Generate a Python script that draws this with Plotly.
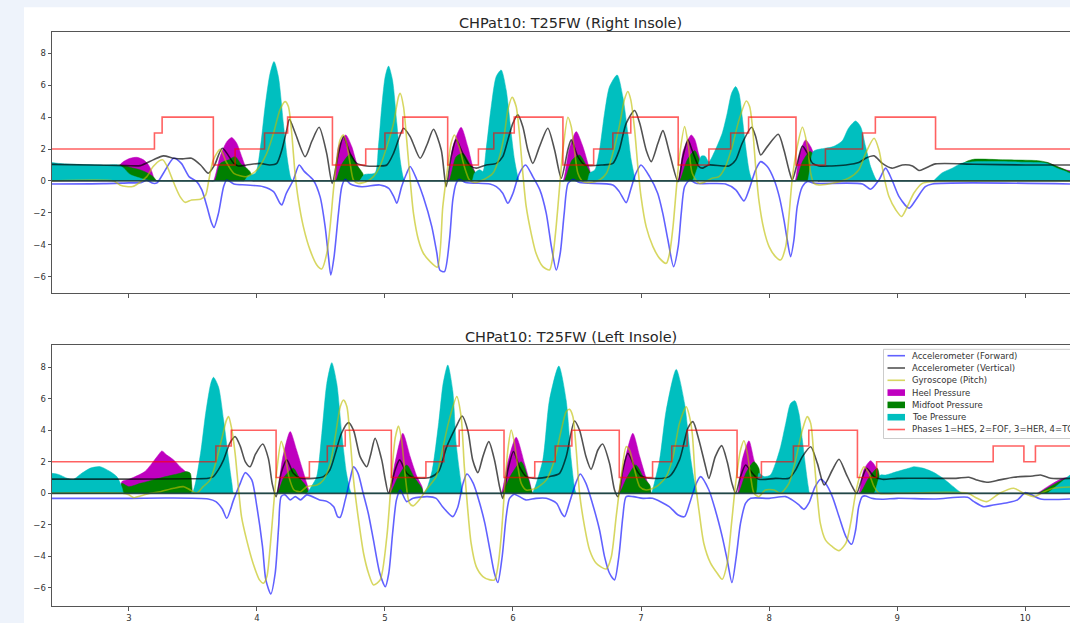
import plotly.graph_objects as go

# ---------------- DATA ----------------
X_TICKS = [3, 4, 5, 6, 7, 8, 9, 10]
Y_TICKS = [-6, -4, -2, 0, 2, 4, 6, 8]
TITLES = ["CHPat10: T25FW (Right Insole)", "CHPat10: T25FW (Left Insole)"]
LEG_NAMES = ["Accelerometer (Forward)", "Accelerometer (Vertical)", "Gyroscope (Pitch)",
             "Heel Pressure", "Midfoot Pressure", "Toe Pressure",
             "Phases 1=HES, 2=FOF, 3=HER, 4=TOF"]

# ---- Right insole (top panel) ----
R_PH_X = [2.40, 3.20, 3.26, 3.66, 3.83, 4.06, 4.24, 4.59, 4.85, 5.00, 5.14, 5.49, 5.73, 5.85, 6.01,
          6.39, 6.63, 6.78, 6.92, 7.29, 7.53, 7.70, 7.84, 8.21, 8.44, 8.73, 8.83, 9.30, 10.35]
R_PH_Y = [2, 3, 4, 1, 2, 3, 4, 1, 2, 3, 4, 1, 2, 3, 4, 1, 2, 3, 4, 1, 2, 3, 4, 1, 2, 3, 4, 2, 2]

R_ACCF_X = [2.40, 2.80, 3.00, 3.10, 3.14, 3.19, 3.22, 3.27, 3.35, 3.41, 3.47, 3.53, 3.57, 3.61, 3.645,
            3.665, 3.70, 3.74, 3.765, 3.82, 3.92, 4.05, 4.13, 4.18, 4.195, 4.23, 4.285, 4.33, 4.37,
            4.44, 4.494, 4.533, 4.559, 4.577, 4.603, 4.637, 4.663, 4.69, 4.73, 4.82, 4.96, 5.03, 5.07,
            5.093, 5.13, 5.17, 5.197, 5.25, 5.30, 5.366, 5.405, 5.43, 5.465, 5.504, 5.53, 5.556, 5.58,
            5.63, 5.82, 5.87, 5.92, 5.96, 6.00, 6.05, 6.098, 6.155, 6.21, 6.26, 6.30, 6.338, 6.369,
            6.40, 6.43, 6.47, 6.52, 6.78, 6.83, 6.884, 6.92, 6.96, 7.00, 7.067, 7.13, 7.17, 7.21,
            7.254, 7.29, 7.314, 7.34, 7.38, 7.43, 7.66, 7.74, 7.804, 7.843, 7.895, 7.934, 7.986, 8.04,
            8.08, 8.116, 8.142, 8.168, 8.194, 8.22, 8.26, 8.30, 8.36, 8.73, 8.793, 8.858, 8.91, 8.96,
            9.015, 9.093, 9.145, 9.22, 9.275, 10.35]
R_ACCF_Y = [-0.19, -0.17, -0.12, -0.10, 0.04, -0.15, -0.12, 0.48, 1.42, 1.10, 0.27, -0.04, -0.56, -1.60, -2.60,
            -2.92, -2.03, -0.36, 0.06, -0.19, -0.25, -0.36, -0.67, -1.40, -1.50, -0.77, 0.06, 1.00, 0.60,
            0.06, -1.00, -2.86, -4.74, -5.89, -4.74, -2.03, -0.36, 0.10, -0.19, -0.36, -0.25, -0.46, -1.00,
            -1.40, -0.36, 0.48, 0.90, 0.06, -1.00, -2.86, -4.50, -5.60, -5.68, -3.70, -1.19, -0.15, 0.10,
            -0.10, -0.19, -0.36, -0.77, -1.40, -0.77, 0.48, 1.00, 0.27, -0.56, -2.03, -4.12, -5.58, -4.53,
            -2.03, -0.15, 0.10, -0.10, -0.25, -0.67, -1.36, -0.52, 0.48, 1.00, 0.27, -0.77, -2.03, -3.70,
            -5.37, -4.12, -2.03, -0.36, 0.06, -0.15, -0.19, -0.56, -1.25, -0.56, 0.69, 1.21, 0.90, 0.06,
            -1.00, -2.44, -3.70, -4.74, -3.70, -1.60, -0.36, -0.04, -0.15, -0.19, -0.52, 0.06, 0.80, 0.06,
            -0.98, -1.71, -1.19, -0.36, -0.19, -0.19]

R_ACCV_X = [2.40, 2.70, 2.98, 3.09, 3.19, 3.27, 3.35, 3.42, 3.49, 3.56, 3.62, 3.67, 3.73, 3.82, 3.855,
            3.92, 4.025, 4.10, 4.155, 4.195, 4.233, 4.254, 4.30, 4.377, 4.43, 4.486, 4.545, 4.588, 4.637,
            4.676, 4.728, 4.78, 4.858, 4.96, 5.015, 5.067, 5.119, 5.145, 5.197, 5.275, 5.33, 5.379, 5.44,
            5.478, 5.517, 5.556, 5.608, 5.66, 5.713, 5.79, 5.87, 5.92, 5.96, 5.999, 6.038, 6.077, 6.116,
            6.155, 6.207, 6.272, 6.325, 6.377, 6.43, 6.455, 6.507, 6.56, 6.70, 6.78, 6.83, 6.884, 6.95,
            6.99, 7.04, 7.08, 7.132, 7.171, 7.223, 7.288, 7.327, 7.366, 7.40, 7.452, 7.478, 7.53, 7.686,
            7.74, 7.79, 7.864, 7.895, 7.934, 7.986, 8.072, 8.116, 8.155, 8.181, 8.22, 8.26, 8.30, 8.34,
            8.39, 8.49, 8.60, 8.70, 8.754, 8.82, 8.884, 8.96, 9.04, 9.12, 9.17, 9.22, 9.30, 9.60, 10.00,
            10.35]
R_ACCV_Y = [1.04, 1.00, 0.96, 0.96, 1.32, 1.57, 1.42, 1.38, 1.42, 1.00, 0.48, 1.00, 2.05, 1.10, 0.94,
            1.00, 1.10, 1.00, 1.10, 1.94, 3.20, 3.86, 2.99, 1.52, 2.50, 3.36, 1.73, -0.15, 1.73,
            2.78, 1.73, 1.10, 0.94, 0.94, 1.00, 1.73, 2.88, 3.30, 2.78, 1.42, 2.30, 3.24, 1.94,
            -0.36, 1.52, 2.57, 1.73, 1.00, 0.80, 1.00, 1.10, 1.52, 2.57, 3.61, 4.14, 3.40, 1.94,
            1.10, 2.15, 3.30, 1.94, 0.17, 2.00, 2.57, 1.52, 1.00, 1.00, 1.10, 1.94, 3.61, 4.41,
            3.61, 1.94, 1.21, 2.36, 3.15, 1.73, -0.04, 1.52, 2.57, 1.90, 0.90, 0.80, 1.00, 0.94,
            1.32, 2.36, 3.36, 2.78, 1.63, 2.15, 2.92, 1.94, 0.69, 0.06, 1.10, 2.19, 1.73, 1.10,
            0.94, 0.94, 1.00, 1.15, 1.42, 1.57, 1.10, 0.80, 1.00, 0.94, 0.65, 0.80, 1.07, 1.05, 1.00,
            1.00]

R_GYRO_X = [2.40, 2.88, 2.93, 2.98, 3.03, 3.085, 3.14, 3.19, 3.24, 3.266, 3.30, 3.35, 3.40, 3.44, 3.49,
            3.56, 3.60, 3.625, 3.66, 3.714, 3.76, 3.82, 3.92, 4.00, 4.077, 4.13, 4.18, 4.22, 4.246, 4.272,
            4.298, 4.324, 4.363, 4.415, 4.468, 4.507, 4.546, 4.572, 4.598, 4.624, 4.65, 4.676, 4.70,
            4.728, 4.754, 4.79, 4.858, 4.91, 4.96, 5.015, 5.067, 5.106, 5.119, 5.145, 5.17, 5.197, 5.223,
            5.262, 5.30, 5.353, 5.41, 5.452, 5.491, 5.517, 5.543, 5.58, 5.62, 5.66, 5.70, 5.765, 5.843,
            5.895, 5.934, 5.96, 5.994, 6.025, 6.05, 6.077, 6.103, 6.142, 6.18, 6.233, 6.285, 6.31, 6.338,
            6.364, 6.39, 6.429, 6.455, 6.48, 6.507, 6.546, 6.60, 6.676, 6.73, 6.78, 6.83, 6.87, 6.897,
            6.92, 6.95, 6.975, 7.00, 7.04, 7.093, 7.145, 7.197, 7.223, 7.25, 7.275, 7.30, 7.34, 7.37,
            7.40, 7.452, 7.504, 7.556, 7.608, 7.66, 7.712, 7.765, 7.822, 7.848, 7.87, 7.895, 7.92, 7.96,
            8.00, 8.05, 8.09, 8.13, 8.155, 8.18, 8.22, 8.26, 8.30, 8.325, 8.35, 8.39, 8.494, 8.62, 8.70,
            8.754, 8.82, 8.858, 8.897, 8.936, 8.99, 9.035, 9.08, 9.13, 9.197, 9.275, 9.50, 10.35]
R_GYRO_Y = [0.00, 0.00, -0.25, -0.35, -0.35, -0.10, 0.27, 0.90, 1.27, 1.32, 0.90, -0.10, -0.98, -1.34, -1.19,
            -1.15, -0.88, 0.06, 1.32, 1.98, 1.20, 0.48, 0.27, 0.69, 1.73, 2.99, 4.45, 4.97, 4.66, 2.99,
            0.48, -1.19, -2.86, -4.32, -5.26, -5.51, -4.53, -2.86, -0.56, 1.32, 2.57, 2.88, 2.36,
            1.10, 0.06, -0.15, -0.04, 0.27, 0.90, 2.15, 3.61, 5.28, 5.49, 4.66, 2.57, 0.06, -2.03,
            -3.70, -4.53, -5.05, -5.40, -1.60, 0.90, 2.36, 2.88, 2.15, 0.90, 0.06, -0.10, 0.06, 0.48,
            1.52, 2.99, 4.45, 5.24, 4.66, 2.99, 0.48, -1.60, -3.28, -4.53, -5.37, -5.58, -4.80, -2.80,
            -0.36, 1.94, 3.99, 3.40, 1.94, 0.48, -0.04, -0.10, 0.06, 0.48, 1.73, 3.40, 5.08, 5.60,
            5.08, 3.20, 0.90, -0.98, -2.86, -4.11, -4.85, -5.16, -4.53, -2.86, -0.56, 1.52, 3.40, 2.20,
            0.48, -0.15, -0.04, 0.17, 0.27, 0.90, 2.15, 3.82, 5.01, 4.66, 3.40, 0.90, -1.19, -3.07,
            -4.11, -4.74, -4.95, -4.11, -2.23, 0.06, 2.15, 3.36, 2.15, 0.48, -0.15, -0.25, -0.15, 0.17, 0.69,
            1.73, 2.67, 1.94, 0.27, -0.98, -1.82, -2.23, -1.60, -0.77, -0.15, -0.04, 0.00, 0.00]

R_HEEL_X = [2.40, 2.88, 2.90, 2.92, 2.958, 3.01, 3.063, 3.115, 3.154, 3.18, 3.206, 3.226, 3.64, 3.66,
            3.712, 3.765, 3.804, 3.843, 3.882, 3.92, 3.942, 3.96, 3.98, 4.583, 4.603, 4.637, 4.694, 4.741,
            4.78, 4.82, 4.845, 4.865, 5.47, 5.49, 5.53, 5.595, 5.647, 5.686, 5.713, 5.733, 5.753, 6.37,
            6.39, 6.44, 6.494, 6.546, 6.585, 6.61, 6.624, 6.644, 7.268, 7.288, 7.33, 7.392, 7.42, 7.45,
            7.48, 7.51, 7.53, 8.182, 8.202, 8.233, 8.285, 8.325, 8.35, 8.37, 8.38, 8.40, 9.28, 9.30, 9.40,
            9.55, 9.80, 10.17, 10.24, 10.32, 10.35]
R_HEEL_Y = [0, 0, 0, 0.90, 1.21, 1.42, 1.48, 1.32, 1.00, 0.58, 0, 0, 0, 0,
            1.52, 2.46, 2.72, 2.36, 1.52, 0.69, 0.27, 0, 0, 0, 0, 2.15, 2.88, 2.15,
            1.10, 0.38, 0, 0, 0, 0, 2.15, 3.36, 2.15, 0.90, 0.38, 0, 0, 0,
            0, 2.00, 3.09, 2.15, 1.10, 0.38, 0, 0, 0, 0, 1.90, 2.88, 2.60, 1.70,
            0.80, 0, 0, 0, 0, 1.52, 2.57, 2.15, 1.63, 0.50, 0, 0, 0, 0, 0.60,
            1.10, 1.15, 1.15, 0.94, 0.69, 0.65]

R_MID_X = [2.40, 2.90, 2.93, 2.99, 3.04, 3.09, 3.14, 3.19, 3.22, 3.24, 3.65, 3.67, 3.715, 3.78, 3.83,
           3.882, 3.92, 3.947, 3.96, 3.97, 3.99, 4.595, 4.615, 4.66, 4.728, 4.78, 4.827, 4.845, 4.865,
           5.48, 5.50, 5.556, 5.608, 5.66, 5.70, 5.726, 5.746, 6.38, 6.40, 6.46, 6.52, 6.57, 6.61, 6.624,
           6.644, 7.28, 7.30, 7.36, 7.42, 7.46, 7.50, 7.52, 7.54, 8.19, 8.21, 8.26, 8.32, 8.36, 8.38,
           8.40, 9.28, 9.30, 9.45, 9.55, 9.60, 9.85, 10.10, 10.17, 10.25, 10.35]
R_MID_Y = [0.90, 0.95, 1.00, 0.90, 0.79, 0.69, 0.52, 0.27, 0, 0, 0, 0, 1.10, 1.32, 1.52,
           1.00, 0.80, 0.58, 0.30, 0, 0, 0, 0, 1.00, 1.67, 1.00, 0.48, 0, 0,
           0, 0, 1.52, 1.73, 1.10, 0.58, 0, 0, 0, 0, 1.30, 1.63, 1.00, 0.40, 0,
           0, 0, 0, 1.30, 1.90, 1.20, 0.40, 0, 0, 0, 0, 1.20, 1.85, 1.50, 0,
           0, 0, 0, 0.80, 1.25, 1.36, 1.32, 1.27, 1.17, 0.90, 0.58]

R_TOE_X = [2.40, 2.45, 2.60, 2.80, 2.92, 2.96, 3.01, 3.09, 3.14, 3.20, 3.22, 3.88, 3.90, 3.93, 3.99,
           4.025, 4.064, 4.103, 4.134, 4.168, 4.207, 4.239, 4.265, 4.28, 4.30, 4.78, 4.80, 4.84, 4.923,
           4.949, 4.975, 5.002, 5.028, 5.059, 5.093, 5.119, 5.145, 5.16, 5.18, 5.66, 5.68, 5.70, 5.74,
           5.765, 5.79, 5.83, 5.869, 5.908, 5.947, 5.986, 6.012, 6.038, 6.05, 6.07, 6.56, 6.58, 6.60,
           6.64, 6.676, 6.715, 6.754, 6.814, 6.858, 6.897, 6.923, 6.95, 6.96, 6.98, 7.38, 7.40, 7.44,
           7.47, 7.50, 7.53, 7.58, 7.634, 7.673, 7.707, 7.739, 7.765, 7.79, 7.817, 7.843, 7.86, 7.87,
           7.89, 8.28, 8.30, 8.345, 8.40, 8.44, 8.50, 8.57, 8.62, 8.676, 8.715, 8.754, 8.793, 8.83,
           8.845, 8.865, 9.26, 9.28, 9.35, 9.43, 9.50, 9.60, 9.80, 10.00, 10.17, 10.25, 10.33, 10.35]
R_TOE_Y = [1.15, 1.10, 1.04, 1.00, 1.00, 0.80, 0.40, 0.17, 0.06, 0, 0, 0, 0, 0.30, 0.50,
           1.94, 4.66, 6.75, 7.48, 6.54, 3.61, 1.32, 0.17, 0, 0, 0, 0, 0.40, 0.50,
           2.15, 4.66, 6.54, 7.20, 6.33, 3.61, 1.32, 0.17, 0, 0, 0, 0, 0.50, 0.70,
           0.60, 1.94, 4.66, 6.54, 6.95, 5.70, 2.99, 1.32, 0.27, 0, 0, 0, 0, 0.50,
           0.70, 1.94, 4.24, 5.91, 6.64, 5.28, 2.99, 1.32, 0.27, 0, 0, 0, 0, 0.80,
           1.55, 1.55, 1.20, 1.94, 2.99, 4.24, 5.49, 5.91, 5.49, 4.03, 2.15, 0.69, 0.17, 0,
           0, 0, 0, 1.85, 2.00, 2.05, 2.15, 2.50, 3.30, 3.76, 3.40, 2.15, 0.90, 0.17,
           0, 0, 0, 0, 0.50, 0.80, 1.10, 1.20, 1.21, 1.17, 1.10, 0.79, 0.55, 0.48]

# ---- Left insole (bottom panel) ----
L_PH_X = [2.40, 3.68, 3.80, 4.15, 4.41, 4.55, 4.69, 5.05, 5.32, 5.46, 5.58, 5.93, 6.17, 6.33, 6.46,
          6.83, 7.09, 7.24, 7.36, 7.75, 7.94, 8.19, 8.31, 8.69, 8.84, 9.75, 9.99, 10.08, 10.35]
L_PH_Y = [2, 3, 4, 1, 2, 3, 4, 1, 2, 3, 4, 1, 2, 3, 4, 1, 2, 3, 4, 1, 2, 3, 4, 1, 2, 3, 2, 3, 3]

L_ACCF_X = [2.40, 3.00, 3.30, 3.62, 3.68, 3.73, 3.765, 3.818, 3.87, 3.909, 3.96, 4.00, 4.044, 4.07, 4.109,
            4.143, 4.17, 4.19, 4.22, 4.26, 4.30, 4.34, 4.39, 4.49, 4.55, 4.60, 4.63, 4.651, 4.69, 4.727,
            4.755, 4.79, 4.83, 4.87, 4.91, 4.96, 5.003, 5.03, 5.06, 5.09, 5.12, 5.17, 5.22, 5.33, 5.40,
            5.45, 5.53, 5.57, 5.61, 5.64, 5.69, 5.74, 5.78, 5.82, 5.855, 5.882, 5.916, 5.947, 5.973,
            6.01, 6.05, 6.10, 6.18, 6.26, 6.34, 6.38, 6.403, 6.44, 6.49, 6.525, 6.57, 6.62, 6.676,
            6.715, 6.754, 6.793, 6.827, 6.858, 6.884, 6.94, 7.015, 7.09, 7.22, 7.29, 7.34, 7.38, 7.43,
            7.465, 7.53, 7.58, 7.634, 7.673, 7.71, 7.744, 7.777, 7.817, 7.856, 8.00, 8.13, 8.18, 8.233,
            8.272, 8.31, 8.36, 8.403, 8.44, 8.494, 8.546, 8.60, 8.645, 8.676, 8.70, 8.728, 8.754, 8.80,
            8.884, 9.00, 9.30, 9.55, 9.60, 9.677, 9.75, 9.86, 9.94, 10.00, 10.05, 10.12, 10.35]
L_ACCF_Y = [-0.32, -0.32, -0.30, -0.36, -0.53, -1.00, -1.59, -0.42, 0.63, 1.31, 0.85, -0.85, -3.39, -5.50, -6.39,
            -5.08, -2.12, -0.20, -0.10, -0.42, -0.21, -0.42, -0.10, -0.42, -0.53, -0.85, -1.48, -1.52, -0.42, 0.85,
            1.69, 1.27, 0.00, -1.27, -2.96, -5.08, -5.93, -5.08, -2.54, -0.42, 0.20, -0.53, -0.32, -0.21, -0.32,
            -0.85, -1.48, -0.85, 0.63, 1.23, 0.63, -0.63, -1.90, -3.60, -5.08, -5.67, -4.00, -1.48, -0.32,
            -0.06, -0.21, -0.42, -0.32, -0.32, -0.63, -1.27, -1.48, -0.63, 0.63, 1.23, 0.63, -0.63, -2.33,
            -4.02, -5.08, -5.50, -4.00, -1.48, -0.21, -0.21, -0.32, -0.32, -0.85, -1.38, -1.48, -0.63, 0.60,
            1.06, 0.21, -1.06, -2.75, -4.23, -5.67, -4.00, -1.90, -0.63, -0.32, -0.32, -0.21, -0.42, -0.74,
            -1.02, -0.63, 0.42, 0.89, 0.63, -0.21, -1.48, -2.75, -3.24, -2.33, -0.85, -0.21, -0.17, -0.32,
            -0.38, -0.32, -0.36, -0.25, -0.53, -0.85, -0.74, -0.60, -0.42, 0.04, -0.10, -0.36, -0.36]

L_ACCV_X = [2.40, 3.00, 3.50, 3.62, 3.66, 3.70, 3.74, 3.79, 3.83, 3.87, 3.91, 3.947, 3.99, 4.046, 4.09,
            4.12, 4.15, 4.19, 4.233, 4.285, 4.34, 4.44, 4.52, 4.57, 4.62, 4.66, 4.715, 4.755, 4.806,
            4.858, 4.89, 4.923, 4.975, 5.00, 5.028, 5.08, 5.115, 5.17, 5.22, 5.35, 5.42, 5.48, 5.556,
            5.603, 5.647, 5.686, 5.726, 5.765, 5.811, 5.856, 5.895, 5.92, 5.96, 6.004, 6.05, 6.103,
            6.18, 6.285, 6.364, 6.416, 6.48, 6.52, 6.57, 6.61, 6.663, 6.70, 6.754, 6.793, 6.82, 6.858,
            6.897, 6.95, 7.00, 7.09, 7.22, 7.30, 7.366, 7.405, 7.452, 7.504, 7.53, 7.58, 7.63, 7.673,
            7.71, 7.739, 7.777, 7.817, 7.87, 7.92, 8.05, 8.155, 8.207, 8.26, 8.325, 8.377, 8.43, 8.494,
            8.546, 8.60, 8.65, 8.684, 8.728, 8.762, 8.82, 8.884, 9.00, 9.30, 9.46, 9.56, 9.62, 9.70,
            9.80, 9.91, 10.06, 10.12, 10.20, 10.35]
L_ACCV_Y = [0.90, 0.90, 0.92, 0.95, 1.06, 1.50, 2.12, 3.20, 3.60, 3.00, 2.00, 1.69, 2.50, 3.13, 2.20,
            0.60, -0.21, 1.30, 2.12, 1.27, 0.95, 0.95, 1.06, 1.48, 2.75, 3.80, 4.49, 4.00, 2.33,
            1.69, 2.50, 3.49, 2.12, 1.00, 0.00, 1.50, 2.12, 1.27, 1.00, 1.00, 1.40, 2.90, 4.23,
            4.91, 4.00, 2.10, 1.31, 2.33, 3.28, 2.10, 0.42, -0.32, 1.48, 2.65, 1.69, 1.06,
            0.95, 1.06, 1.27, 2.33, 4.59, 4.00, 2.33, 1.52, 2.75, 3.13, 1.90, 0.21, -0.21, 1.48,
            2.54, 1.69, 1.10, 0.95, 1.06, 2.12, 4.13, 4.55, 3.39, 1.69, 0.95, 2.33, 3.03, 2.00,
            0.63, 0.00, 1.06, 1.80, 1.27, 0.89, 0.95, 0.95, 1.48, 2.33, 2.96, 1.90, 0.53, 1.48,
            2.16, 1.27, 0.42, 0.00, 1.00, 1.59, 1.06, 0.89, 0.95, 0.95, 0.95, 1.02, 0.85, 0.70,
            0.85, 1.02, 1.10, 1.16, 0.95, 0.95]

L_GYRO_X = [2.40, 2.95, 3.00, 3.04, 3.09, 3.17, 3.245, 3.35, 3.43, 3.48, 3.53, 3.58, 3.635, 3.685, 3.724,
            3.763, 3.779, 3.80, 3.83, 3.855, 3.88, 3.92, 3.97, 4.02, 4.052, 4.078, 4.104, 4.13, 4.156,
            4.19, 4.22, 4.25, 4.29, 4.34, 4.39, 4.47, 4.52, 4.573, 4.612, 4.651, 4.677, 4.703, 4.729,
            4.755, 4.794, 4.833, 4.872, 4.911, 4.963, 5.015, 5.054, 5.08, 5.106, 5.13, 5.16, 5.19, 5.22,
            5.27, 5.33, 5.40, 5.45, 5.50, 5.561, 5.595, 5.62, 5.647, 5.673, 5.713, 5.765, 5.82, 5.856,
            5.882, 5.908, 5.934, 5.96, 5.986, 6.012, 6.038, 6.064, 6.103, 6.18, 6.26, 6.324, 6.377,
            6.416, 6.442, 6.468, 6.494, 6.52, 6.559, 6.598, 6.65, 6.728, 6.767, 6.806, 6.845, 6.884,
            6.91, 6.95, 6.99, 7.04, 7.12, 7.197, 7.25, 7.30, 7.353, 7.375, 7.40, 7.426, 7.452, 7.49,
            7.543, 7.595, 7.634, 7.673, 7.707, 7.739, 7.777, 7.804, 7.83, 7.856, 7.882, 7.92, 7.97,
            8.04, 8.09, 8.155, 8.207, 8.26, 8.298, 8.325, 8.35, 8.377, 8.40, 8.44, 8.494, 8.546, 8.60,
            8.637, 8.676, 8.715, 8.741, 8.78, 8.82, 8.86, 9.00, 9.55, 9.625, 9.70, 9.80, 9.91, 9.99,
            10.07, 10.15, 10.22, 10.35]
L_GYRO_Y = [0, 0, -0.10, -0.28, -0.17, 0, 0.10, 0.32, 0.42, 0.21, 0, 0.42, 0.85, 2.12, 3.39,
            4.66, 4.87, 4.23, 2.54, 0.42, -1.48, -2.96, -4.44, -5.50, -5.71, -5.29, -3.39, -0.85, 1.48,
            3.30, 2.50, 1.06, 0.21, 0.10, 0.42, 0.53, 0.85, 1.90, 3.60, 5.50, 5.93, 5.50, 3.39,
            0.85, -1.69, -3.81, -5.08, -5.82, -5.50, -2.75, 1.27, 3.50, 4.27, 3.40, 1.00, -0.60, -0.80,
            -0.40, 0.30, 1.06, 2.80, 4.60, 6.14, 4.87, 1.69, -1.06, -3.17, -4.66, -5.29, -5.50, -5.50,
            -4.66, -2.75, 0.21, 2.75, 4.02, 3.17, 1.69, 0.63, 0.21, 0.32, 0.85, 2.12, 4.02,
            5.19, 5.33, 4.87, 2.75, 0.00, -2.12, -3.60, -4.44, -4.81, -4.06, -1.48, 1.06, 2.96,
            2.75, 1.48, 0.42, 0.21, 0.42, 1.06, 2.33, 4.44, 5.50, 5.00, 3.81, 0.63, -1.06, -3.17,
            -4.44, -5.08, -5.46, -4.44, -1.90, 0.63, 2.75, 3.34, 2.54, 1.06, 0.00, -0.21, 0.21,
            0.21, 0.00, 0.63, 2.12, 4.02, 4.87, 4.44, 2.33, -0.21, -1.90, -2.96, -3.39, -3.64, -3.17,
            -1.90, 0.00, 1.27, 1.69, 1.27, 0.42, 0.00, 0.00, 0.00, -0.32, -0.53, 0.00, 0.32, 0.00,
            -0.21, 0.10, 0.32, 0.40]

L_HEEL_X = [2.40, 2.91, 2.93, 2.945, 3.00, 3.05, 3.125, 3.18, 3.23, 3.258, 3.297, 3.35, 3.40, 3.456, 3.482,
            3.50, 3.52, 4.135, 4.155, 4.20, 4.26, 4.31, 4.35, 4.39, 4.416, 4.436, 5.008, 5.028, 5.08, 5.14,
            5.197, 5.25, 5.29, 5.30, 5.32, 5.888, 5.908, 5.96, 6.025, 6.09, 6.13, 6.155, 6.175, 6.80,
            6.82, 6.87, 6.936, 6.99, 7.04, 7.08, 7.10, 7.732, 7.752, 7.79, 7.843, 7.882, 7.92, 7.947,
            7.967, 8.68, 8.70, 8.74, 8.793, 8.832, 8.86, 8.87, 8.89, 10.07, 10.09, 10.20, 10.28, 10.35]
L_HEEL_Y = [0, 0, 0, 0.74, 0.89, 1.06, 1.38, 1.90, 2.43, 2.69, 2.43, 2.12, 1.69, 1.27, 0.85,
            0, 0, 0, 0, 2.20, 3.92, 2.75, 1.69, 0.63, 0, 0, 0, 0, 2.00, 3.81,
            2.33, 1.06, 0.42, 0, 0, 0, 0, 2.00, 3.56, 1.90, 0.74, 0, 0, 0,
            0, 2.00, 3.81, 2.33, 0.95, 0, 0, 0, 0, 2.12, 3.34, 2.12, 1.06, 0,
            0, 0, 0, 1.50, 2.07, 1.69, 1.06, 0, 0, 0, 0, 0.55, 0.90, 1.05]

L_MID_X = [2.40, 2.91, 2.93, 2.945, 3.00, 3.09, 3.19, 3.29, 3.40, 3.45, 3.48, 3.50, 3.52, 4.14, 4.16,
           4.21, 4.285, 4.33, 4.38, 4.41, 4.43, 5.02, 5.04, 5.10, 5.17, 5.23, 5.29, 5.30, 5.32, 5.895,
           5.915, 5.98, 6.064, 6.12, 6.155, 6.175, 6.81, 6.83, 6.89, 6.96, 7.02, 7.07, 7.08, 7.10, 7.74,
           7.76, 7.82, 7.882, 7.92, 7.94, 7.96, 8.69, 8.71, 8.78, 8.845, 8.87, 8.89, 8.91, 10.08, 10.10,
           10.20, 10.28, 10.35]
L_MID_Y = [0, 0, 0, 0.63, 0.42, 0.63, 0.85, 1.06, 1.27, 1.38, 1.27, 0, 0, 0, 0,
           1.00, 1.59, 1.00, 0.50, 0, 0, 0, 0, 1.00, 1.80, 1.00, 0.30, 0, 0, 0,
           0, 1.10, 2.00, 0.90, 0, 0, 0, 0, 1.00, 1.80, 1.00, 0.50, 0, 0, 0,
           0, 1.30, 2.00, 1.60, 0, 0, 0, 0, 1.00, 1.59, 0.60, 0, 0, 0, 0,
           0.45, 0.80, 1.00]

L_TOE_X = [2.40, 2.45, 2.52, 2.568, 2.62, 2.70, 2.776, 2.85, 2.906, 2.945, 2.96, 2.98, 3.46, 3.48, 3.505,
           3.56, 3.60, 3.64, 3.661, 3.70, 3.74, 3.78, 3.805, 3.818, 3.838, 4.37, 4.39, 4.416, 4.467,
           4.507, 4.546, 4.585, 4.624, 4.663, 4.70, 4.728, 4.74, 4.76, 5.28, 5.30, 5.327, 5.37, 5.42,
           5.455, 5.491, 5.53, 5.556, 5.595, 5.61, 5.63, 6.13, 6.15, 6.168, 6.233, 6.285, 6.358, 6.415,
           6.455, 6.48, 6.494, 6.514, 7.06, 7.08, 7.093, 7.145, 7.197, 7.275, 7.34, 7.39, 7.42, 7.44,
           7.46, 7.88, 7.90, 7.92, 7.96, 8.01, 8.05, 8.09, 8.13, 8.168, 8.202, 8.233, 8.26, 8.285,
           8.306, 8.317, 8.337, 8.80, 8.82, 8.87, 8.91, 9.00, 9.09, 9.13, 9.20, 9.28, 9.35, 9.42, 9.48,
           9.51, 9.53, 10.15, 10.17, 10.22, 10.28, 10.35]
L_TOE_Y = [1.27, 1.20, 0.95, 0.89, 1.20, 1.60, 1.69, 1.40, 1.06, 0.40, 0, 0, 0, 0, 0.20,
           2.54, 5.08, 6.98, 7.37, 6.77, 4.66, 2.12, 0.63, 0, 0, 0, 0, 0.30, 1.06,
           3.80, 6.98, 8.30, 6.98, 3.80, 1.27, 0.20, 0, 0, 0, 0, 0.30, 1.50, 4.50,
           7.00, 8.15, 6.50, 3.17, 0.63, 0, 0, 0, 0, 0.30, 2.12, 5.93, 8.08, 5.93,
           2.12, 0.42, 0, 0, 0, 0, 0.30, 2.12, 5.29, 7.87, 5.71, 2.10, 0.63, 0,
           0, 0, 0, 1.27, 1.06, 1.16, 1.90, 2.96, 4.44, 5.71, 5.88, 5.08, 3.39, 1.69,
           0.42, 0, 0, 0, 0, 1.16, 1.16, 1.38, 1.59, 1.69, 1.60, 1.35, 1.00, 0.55, 0.15,
           0, 0, 0, 0, 0.30, 0.70, 1.16]

# ---------------- FIGURE ----------------
W, H = 1070, 623
ML, MR, MT, MB = 52, 0, 32, 17
PW, PH = W - ML - MR, H - MT - MB


def px2x(px):
    return (px - ML) / PW


def py2y(py):
    return (H - MB - py) / PH


C_BLUE = "rgba(0,0,255,0.62)"
C_BLACK = "rgba(0,0,0,0.68)"
C_YEL = "rgba(191,191,0,0.62)"
C_RED = "rgba(255,0,0,0.62)"
C_HEEL = "#bf00bf"
C_MID = "#008000"
C_TOE = "#00bfbf"
LW = 1.6

panels = [
    dict(xa="x", ya="y",
         accf=(R_ACCF_X, R_ACCF_Y), accv=(R_ACCV_X, R_ACCV_Y), gyro=(R_GYRO_X, R_GYRO_Y),
         heel=(R_HEEL_X, R_HEEL_Y), mid=(R_MID_X, R_MID_Y), toe=(R_TOE_X, R_TOE_Y),
         ph=(R_PH_X, R_PH_Y)),
    dict(xa="x2", ya="y2",
         accf=(L_ACCF_X, L_ACCF_Y), accv=(L_ACCV_X, L_ACCV_Y), gyro=(L_GYRO_X, L_GYRO_Y),
         heel=(L_HEEL_X, L_HEEL_Y), mid=(L_MID_X, L_MID_Y), toe=(L_TOE_X, L_TOE_Y),
         ph=(L_PH_X, L_PH_Y)),
]

fig = go.Figure()
for p in panels:
    for key in ["accf", "accv", "gyro", "heel", "mid", "toe", "ph"]:
        xs, ys = p[key]
        assert len(xs) == len(ys), (key, p["xa"], len(xs), len(ys))
        assert all(b > a for a, b in zip(xs, xs[1:])), (key, p["xa"])
    for key, col, name in [("heel", C_HEEL, LEG_NAMES[3]), ("mid", C_MID, LEG_NAMES[4]),
                           ("toe", C_TOE, LEG_NAMES[5])]:
        xs, ys = p[key]
        fig.add_trace(go.Scatter(x=xs, y=ys, mode="lines", fill="tozeroy", fillcolor=col, name=name,
                                 line=dict(color=col, width=0.5, shape="spline", smoothing=0.7),
                                 xaxis=p["xa"], yaxis=p["ya"], showlegend=False, hoverinfo="skip"))
    for key, col, name in [("accf", C_BLUE, LEG_NAMES[0]), ("accv", C_BLACK, LEG_NAMES[1]),
                           ("gyro", C_YEL, LEG_NAMES[2])]:
        xs, ys = p[key]
        fig.add_trace(go.Scatter(x=xs, y=ys, mode="lines", name=name,
                                 line=dict(color=col, width=LW, shape="spline", smoothing=0.7),
                                 xaxis=p["xa"], yaxis=p["ya"], showlegend=False, hoverinfo="skip"))
    xs, ys = p["ph"]
    fig.add_trace(go.Scatter(x=xs, y=ys, mode="lines", name=LEG_NAMES[6],
                             line=dict(color=C_RED, width=LW, shape="hv"),
                             xaxis=p["xa"], yaxis=p["ya"], showlegend=False, hoverinfo="skip"))

FONT = "DejaVu Sans"
axis_common = dict(showgrid=False, zeroline=False, showline=True, linecolor="#555555", linewidth=1,
                   ticks="outside", ticklen=3.5, tickwidth=1, tickcolor="#555555",
                   tickfont=dict(family=FONT, size=8.5, color="#333333"))

top_dom = [py2y(293), 1.0]
bot_dom = [0.0, py2y(345)]

fig.update_layout(
    width=W, height=H,
    margin=dict(l=ML, r=MR, t=MT, b=MB, pad=0, autoexpand=False),
    paper_bgcolor="#eef3fb", plot_bgcolor="white",
    showlegend=False, hovermode=False,
    xaxis=dict(anchor="y", domain=[0, 1], range=[2.40, 10.35], tickvals=X_TICKS,
               showticklabels=False, mirror=True, **axis_common),
    xaxis2=dict(anchor="y2", domain=[0, 1], range=[2.40, 10.35], tickvals=X_TICKS,
                mirror=True, **axis_common),
    yaxis=dict(anchor="x", domain=top_dom, range=[-7.02, 9.33], tickvals=Y_TICKS, **axis_common),
    yaxis2=dict(anchor="x2", domain=bot_dom, range=[-7.16, 9.42], tickvals=Y_TICKS, **axis_common),
)

shapes = []
# white figure area (the page background around it is light blue)
shapes.append(dict(type="rect", xref="paper", yref="paper", x0=px2x(24), x1=1.2, y0=-0.1, y1=py2y(7.3),
                   line=dict(width=0), fillcolor="white", layer="below"))
# dark horizontal line at zero in each panel
for xd, ya in [("x domain", "y"), ("x2 domain", "y2")]:
    shapes.append(dict(type="line", xref=xd, yref=ya, x0=0, x1=1, y0=0, y1=0,
                       line=dict(color="rgba(25,55,55,0.85)", width=1.8), layer="above"))

annotations = []
annotations.append(dict(text=TITLES[0], xref="paper", yref="paper", x=px2x(570.5), y=py2y(23.5),
                        xanchor="center", yanchor="middle", showarrow=False,
                        font=dict(family=FONT, size=14.5, color="#262626")))
annotations.append(dict(text=TITLES[1], xref="paper", yref="paper", x=px2x(570.5), y=py2y(336.5),
                        xanchor="center", yanchor="middle", showarrow=False,
                        font=dict(family=FONT, size=14.5, color="#262626")))

# legend (drawn in the lower panel, upper right, partly cut by the picture edge as in the reference)
shapes.append(dict(type="rect", xref="paper", yref="paper", x0=px2x(883.5), x1=px2x(1120),
                   y0=py2y(438.5), y1=py2y(349.3), line=dict(color="#cccccc", width=1),
                   fillcolor="rgba(255,255,255,0.85)", layer="above"))
leg_cols = [C_BLUE, C_BLACK, C_YEL, C_HEEL, C_MID, C_TOE, C_RED]
leg_kind = ["line", "line", "line", "patch", "patch", "patch", "line"]
for i, (nm, col, kind) in enumerate(zip(LEG_NAMES, leg_cols, leg_kind)):
    cy = 355.7 + i * 12.3
    if kind == "line":
        shapes.append(dict(type="line", xref="paper", yref="paper", x0=px2x(887.5), x1=px2x(905),
                           y0=py2y(cy), y1=py2y(cy), line=dict(color=col, width=LW), layer="above"))
    else:
        shapes.append(dict(type="rect", xref="paper", yref="paper", x0=px2x(887.5), x1=px2x(905),
                           y0=py2y(cy + 3.3), y1=py2y(cy - 3.3), line=dict(width=0), fillcolor=col,
                           layer="above"))
    annotations.append(dict(text=nm, xref="paper", yref="paper", x=px2x(910), y=py2y(cy),
                            xanchor="left", yanchor="middle", showarrow=False,
                            font=dict(family=FONT, size=8.5, color="#333333")))

fig.update_layout(shapes=shapes, annotations=annotations)

# the page's default body margin would shift the picture; remove it
fig.write_html("out.html", config={"displayModeBar": False},
               post_script="document.body.style.margin='0px';")
